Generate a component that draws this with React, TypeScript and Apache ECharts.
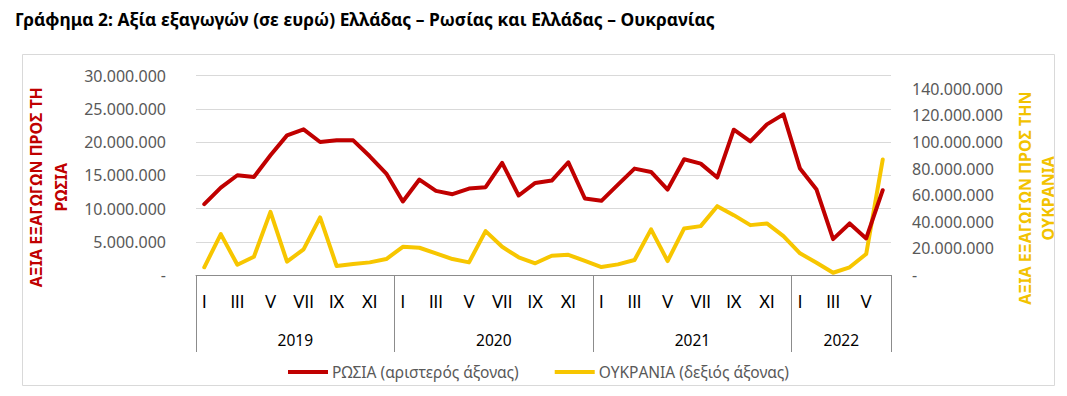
import React, { useEffect, useRef } from "react";
import * as echarts from "echarts";

const MONTHS = ["I", "II", "III", "IV", "V", "VI", "VII", "VIII", "IX", "X", "XI", "XII"];
const YEARS = ["2019", "2020", "2021", "2022"];
const MONTHS_PER_YEAR = [12, 12, 12, 6];

const RUSSIA = [
  10650000, 13150000, 15000000, 14750000, 18000000, 21000000, 21900000, 20000000, 20250000, 20250000, 17850000, 15250000,
  11050000, 14350000, 12650000, 12150000, 13000000, 13200000, 16850000, 11950000, 13850000, 14200000, 16950000, 11500000,
  11150000, 13600000, 16000000, 15500000, 12850000, 17400000, 16750000, 14650000, 21850000, 20100000, 22650000, 24150000,
  16000000, 12850000, 5400000, 7750000, 5500000, 12750000,
];
const UKRAINE = [
  5800000, 30750000, 7700000, 13700000, 47500000, 10000000, 19300000, 43300000, 6750000, 8250000, 9500000, 12000000,
  21200000, 20500000, 16300000, 12000000, 9500000, 33000000, 21200000, 13300000, 8800000, 14500000, 15200000, 10700000,
  6000000, 8000000, 11250000, 34300000, 10500000, 35000000, 36750000, 51750000, 45000000, 37500000, 38800000, 29250000,
  16300000, 9200000, 1700000, 5800000, 15750000, 86800000,
];
const LEFT_TICKS = { min: 0, max: 30000000, interval: 5000000 };
const RIGHT_TICKS = { min: 0, max: 150000000, interval: 20000000 };

const TITLE = "Γράφημα 2: Αξία εξαγωγών (σε ευρώ) Ελλάδας – Ρωσίας και Ελλάδας – Ουκρανίας";
const RUSSIA_NAME = "ΡΩΣΙΑ (αριστερός άξονας)";
const UKRAINE_NAME = "ΟΥΚΡΑΝΙΑ (δεξιός άξονας)";
const LEFT_AXIS_NAME = "ΑΞΙΑ ΕΞΑΓΩΓΩΝ ΠΡΟΣ ΤΗ\nΡΩΣΙΑ";
const RIGHT_AXIS_NAME = "ΑΞΙΑ ΕΞΑΓΩΓΩΝ ΠΡΟΣ ΤΗΝ\nΟΥΚΡΑΝΙΑ";

const FONT = "Noto Sans";
const MONTH_FONT = "Lato";
const RED = "#C00000";
const YELLOW = "#F7C600";
const GRAY_TEXT = "#595959";

function fmt(v: number): string {
  if (v === 0) return "-";
  return String(v).replace(/\B(?=(\d{3})+(?!\d))/g, ".");
}

export default function App() {
  const ref = useRef<HTMLDivElement>(null);
  useEffect(() => {
    if (!ref.current) return;
    const chart = echarts.init(ref.current, undefined, { renderer: "svg" });

    const categories: string[] = [];
    MONTHS_PER_YEAR.forEach((n, yi) => {
      for (let m = 0; m < n; m++) categories.push(YEARS[yi] + "-" + MONTHS[m]);
    });
    const boundaries: number[] = [0];
    const centers: number[] = [];
    let acc = 0;
    MONTHS_PER_YEAR.forEach((n) => {
      centers.push(acc + n / 2);
      acc += n;
      boundaries.push(acc);
    });

    chart.setOption({
      animation: false,
      textStyle: { fontFamily: FONT },
      title: {
        text: TITLE,
        left: 15,
        top: 10,
        padding: 0,
        textStyle: { fontFamily: FONT, fontSize: 17.4, fontWeight: "bold", color: "#000" },
      },
      graphic: [
        {
          type: "rect",
          shape: { x: 22.5, y: 54.5, width: 1032, height: 331 },
          style: { fill: "transparent", stroke: "#D9D9D9", lineWidth: 1 },
          silent: true,
          z: 0,
        },
      ],
      legend: {
        left: 288,
        top: 364,
        padding: 0,
        icon: "rect",
        itemWidth: 40,
        itemHeight: 4,
        itemGap: 36,
        textStyle: { fontFamily: FONT, fontSize: 15.5, color: GRAY_TEXT, padding: [0, 0, 0, -1] },
        data: [RUSSIA_NAME, UKRAINE_NAME],
      },
      grid: { left: 196, right: 176, top: 75.5, bottom: 121, containLabel: false, outerBoundsMode: "none" },
      xAxis: [
        {
          type: "category",
          data: categories,
          boundaryGap: true,
          axisLine: { show: true, lineStyle: { color: "#8C8C8C", width: 1 } },
          axisTick: { show: false },
          axisLabel: {
            interval: 1,
            margin: 18,
            fontSize: 16.5,
            color: "#000",
            fontFamily: MONTH_FONT,
            formatter: (v: string) => v.split("-")[1],
          },
          splitLine: { show: false },
        },
        {
          type: "value",
          min: 0,
          max: acc,
          position: "bottom",
          axisLine: { show: false },
          splitLine: { show: false },
          axisTick: {
            show: true,
            inside: false,
            length: 77,
            customValues: boundaries,
            lineStyle: { color: "#8C8C8C", width: 1 },
          },
          axisLabel: {
            show: true,
            customValues: centers,
            margin: 57,
            fontSize: 15.5,
            color: "#000",
            fontFamily: FONT,
            formatter: (v: number) => {
              const i = centers.indexOf(v);
              return i >= 0 ? YEARS[i] : "";
            },
          },
        },
      ],
      yAxis: [
        {
          type: "value",
          min: LEFT_TICKS.min,
          max: LEFT_TICKS.max,
          interval: LEFT_TICKS.interval,
          position: "left",
          axisLine: { show: false },
          axisTick: { show: false },
          splitLine: { show: true, lineStyle: { color: "#D9D9D9", width: 1 } },
          axisLabel: { margin: 30, fontSize: 16, color: GRAY_TEXT, fontFamily: FONT, formatter: fmt },
          name: LEFT_AXIS_NAME,
          nameLocation: "middle",
          nameRotate: 90,
          nameGap: 116,
          nameTextStyle: {
            color: RED,
            fontWeight: "bold",
            fontSize: 16,
            fontFamily: FONT,
            lineHeight: 25,
            align: "center",
            padding: [0, 24, 0, 0],
          },
        },
        {
          type: "value",
          min: RIGHT_TICKS.min,
          max: RIGHT_TICKS.max,
          interval: RIGHT_TICKS.interval,
          position: "right",
          axisLine: { show: false },
          axisTick: { show: false },
          splitLine: { show: false },
          axisLabel: {
            margin: 21,
            fontSize: 16,
            color: GRAY_TEXT,
            fontFamily: FONT,
            showMaxLabel: false,
            formatter: (v: number) => (v % RIGHT_TICKS.interval === 0 ? fmt(v) : ""),
          },
          name: RIGHT_AXIS_NAME,
          nameLocation: "middle",
          nameRotate: 90,
          nameGap: 105,
          nameTextStyle: {
            color: "#F2C200",
            fontWeight: "bold",
            fontSize: 16,
            fontFamily: FONT,
            lineHeight: 23,
            align: "center",
            padding: [0, 46, 0, 0],
          },
        },
      ],
      series: [
        {
          name: RUSSIA_NAME,
          type: "line",
          data: RUSSIA,
          xAxisIndex: 0,
          yAxisIndex: 0,
          symbol: "none",
          lineStyle: { color: RED, width: 4, cap: "round", join: "round" },
          itemStyle: { color: RED },
          z: 3,
        },
        {
          name: UKRAINE_NAME,
          type: "line",
          data: UKRAINE,
          xAxisIndex: 0,
          yAxisIndex: 1,
          symbol: "none",
          lineStyle: { color: YELLOW, width: 4, cap: "round", join: "round" },
          itemStyle: { color: YELLOW },
          z: 2,
        },
      ],
    });
    return () => chart.dispose();
  }, []);
  return <div ref={ref} style={{ position: "absolute", left: 0, top: 0, width: 1067, height: 396, background: "#fff" }} />;
}
